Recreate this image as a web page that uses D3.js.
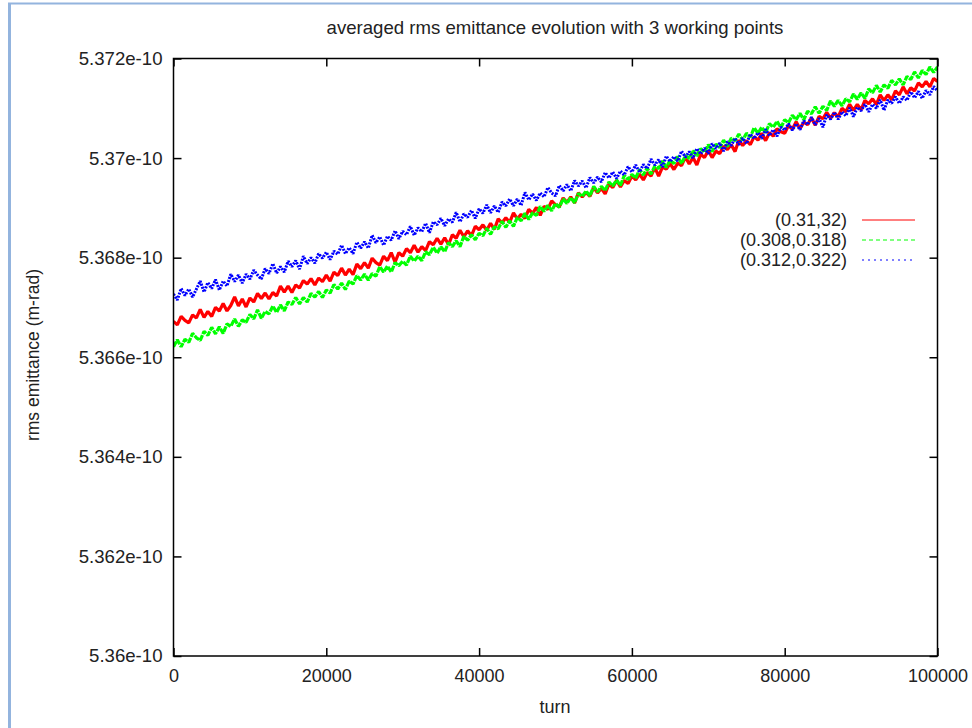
<!DOCTYPE html>
<html><head><meta charset="utf-8">
<script src="https://cdn.jsdelivr.net/npm/d3@7"></script>
<style>
body{margin:0;background:#fff}
svg{display:block}
text{font-family:"Liberation Sans",Arial,Helvetica,sans-serif;fill:#222}
</style>
</head><body><svg id="c" width="972" height="728"></svg>
<script>
// ---- data (emittance values in units of 1e-10 m-rad) ----
const title = "averaged rms emittance evolution with 3 working points";
const xLabel = "turn";
const yLabel = "rms emittance (m-rad)";
const seriesNames = ["(0.31,32)", "(0.308,0.318)", "(0.312,0.322)"];
const seriesColors = ["#ff0000", "#00ff00", "#0000ff"];
const turnStep = 500;
const xTicks = [0, 20000, 40000, 60000, 80000, 100000];
const xTickLabels = ["0", "20000", "40000", "60000", "80000", "100000"];
const yTicks = [5.360, 5.362, 5.364, 5.366, 5.368, 5.370, 5.372];
const yTickLabels = ["5.36e-10", "5.362e-10", "5.364e-10", "5.366e-10", "5.368e-10", "5.37e-10", "5.372e-10"];

const red = [
5.36672,5.36665,5.36682,5.36674,5.36669,5.36685,5.36679,5.36696,5.36680,5.36692,
5.36682,5.36700,5.36693,5.36708,5.36693,5.36704,5.36721,5.36703,5.36717,5.36701,
5.36719,5.36711,5.36728,5.36718,5.36729,5.36717,5.36730,5.36723,5.36743,5.36731,
5.36743,5.36730,5.36745,5.36739,5.36754,5.36747,5.36758,5.36745,5.36759,5.36752,
5.36765,5.36753,5.36771,5.36764,5.36779,5.36765,5.36777,5.36766,5.36787,5.36778,
5.36790,5.36779,5.36799,5.36790,5.36785,5.36803,5.36794,5.36810,5.36791,5.36810,
5.36803,5.36818,5.36810,5.36825,5.36811,5.36822,5.36814,5.36832,5.36826,5.36839,
5.36827,5.36840,5.36826,5.36846,5.36839,5.36855,5.36842,5.36854,5.36844,5.36863,
5.36856,5.36866,5.36855,5.36869,5.36857,5.36878,5.36870,5.36880,5.36871,5.36890,
5.36878,5.36887,5.36879,5.36897,5.36889,5.36901,5.36885,5.36903,5.36897,5.36914,
5.36906,5.36902,5.36920,5.36911,5.36922,5.36910,5.36930,5.36922,5.36931,5.36923,
5.36941,5.36930,5.36939,5.36928,5.36948,5.36941,5.36955,5.36942,5.36955,5.36949,
5.36964,5.36956,5.36968,5.36956,5.36971,5.36964,5.36981,5.36964,5.36982,5.36978,
5.36989,5.36977,5.36990,5.36985,5.37002,5.36988,5.37001,5.36986,5.37008,5.37001,
5.37015,5.37001,5.37014,5.37009,5.37024,5.37017,5.37027,5.37013,5.37036,5.37025,
5.37035,5.37027,5.37043,5.37036,5.37050,5.37035,5.37051,5.37044,5.37059,5.37053,
5.37050,5.37066,5.37058,5.37073,5.37059,5.37072,5.37067,5.37081,5.37066,5.37084,
5.37079,5.37092,5.37080,5.37091,5.37083,5.37100,5.37093,5.37108,5.37096,5.37108,
5.37097,5.37116,5.37109,5.37119,5.37108,5.37127,5.37116,5.37127,5.37117,5.37135,
5.37127,5.37143,5.37129,5.37141,5.37135,5.37151,5.37143,5.37154,5.37143,5.37160,
5.37154];

const green = [
5.36621,5.36635,5.36621,5.36636,5.36630,5.36648,5.36639,5.36634,5.36652,5.36644,
5.36660,5.36647,5.36661,5.36648,5.36667,5.36662,5.36677,5.36662,5.36675,5.36670,
5.36686,5.36677,5.36695,5.36678,5.36692,5.36687,5.36703,5.36690,5.36705,5.36693,
5.36711,5.36706,5.36720,5.36707,5.36720,5.36711,5.36728,5.36721,5.36732,5.36720,
5.36735,5.36729,5.36746,5.36737,5.36749,5.36736,5.36753,5.36747,5.36764,5.36755,
5.36767,5.36755,5.36768,5.36763,5.36782,5.36771,5.36783,5.36771,5.36790,5.36784,
5.36793,5.36785,5.36803,5.36793,5.36803,5.36794,5.36812,5.36806,5.36821,5.36809,
5.36822,5.36812,5.36830,5.36822,5.36834,5.36822,5.36843,5.36835,5.36846,5.36836,
5.36849,5.36844,5.36859,5.36847,5.36862,5.36858,5.36873,5.36861,5.36874,5.36863,
5.36881,5.36874,5.36889,5.36877,5.36890,5.36885,5.36903,5.36893,5.36905,5.36894,
5.36909,5.36901,5.36918,5.36909,5.36921,5.36910,5.36929,5.36923,5.36934,5.36924,
5.36943,5.36932,5.36943,5.36935,5.36952,5.36944,5.36956,5.36945,5.36965,5.36957,
5.36967,5.36960,5.36977,5.36966,5.36980,5.36968,5.36984,5.36979,5.36994,5.36981,
5.36996,5.36989,5.37003,5.36989,5.37005,5.36999,5.37015,5.37004,5.37019,5.37012,
5.37027,5.37013,5.37028,5.37021,5.37036,5.37023,5.37040,5.37035,5.37048,5.37036,
5.37050,5.37042,5.37061,5.37050,5.37062,5.37051,5.37069,5.37062,5.37074,5.37061,
5.37077,5.37071,5.37086,5.37077,5.37090,5.37077,5.37094,5.37089,5.37103,5.37090,
5.37104,5.37096,5.37115,5.37104,5.37116,5.37105,5.37119,5.37113,5.37129,5.37118,
5.37131,5.37120,5.37139,5.37131,5.37146,5.37133,5.37147,5.37140,5.37156,5.37147,
5.37159,5.37147,5.37164,5.37158,5.37173,5.37161,5.37176,5.37168,5.37183,5.37172,
5.37183];

const blue = [
5.36727,5.36715,5.36738,5.36724,5.36737,5.36721,5.36737,5.36753,5.36731,5.36750,
5.36738,5.36756,5.36735,5.36753,5.36743,5.36767,5.36752,5.36765,5.36749,5.36767,
5.36757,5.36775,5.36765,5.36757,5.36778,5.36768,5.36788,5.36769,5.36782,5.36771,
5.36793,5.36782,5.36794,5.36777,5.36803,5.36788,5.36800,5.36789,5.36808,5.36799,
5.36811,5.36796,5.36813,5.36807,5.36825,5.36808,5.36820,5.36808,5.36831,5.36819,
5.36832,5.36819,5.36845,5.36830,5.36842,5.36825,5.36843,5.36835,5.36854,5.36838,
5.36853,5.36846,5.36863,5.36845,5.36860,5.36852,5.36869,5.36850,5.36872,5.36866,
5.36879,5.36864,5.36878,5.36871,5.36891,5.36872,5.36888,5.36881,5.36895,5.36879,
5.36898,5.36889,5.36906,5.36890,5.36904,5.36891,5.36912,5.36904,5.36918,5.36904,
5.36918,5.36905,5.36931,5.36916,5.36928,5.36915,5.36930,5.36922,5.36941,5.36930,
5.36924,5.36945,5.36934,5.36947,5.36934,5.36955,5.36944,5.36954,5.36940,5.36961,
5.36950,5.36962,5.36952,5.36971,5.36960,5.36972,5.36959,5.36974,5.36966,5.36983,
5.36972,5.36986,5.36972,5.36987,5.36979,5.36998,5.36986,5.36997,5.36982,5.37004,
5.36993,5.37003,5.36994,5.37014,5.37002,5.37013,5.37000,5.37019,5.37008,5.37020,
5.37009,5.37029,5.37019,5.37030,5.37014,5.37033,5.37025,5.37040,5.37027,5.37040,
5.37029,5.37048,5.37039,5.37051,5.37039,5.37058,5.37045,5.37057,5.37044,5.37062,
5.37056,5.37069,5.37056,5.37069,5.37057,5.37075,5.37067,5.37082,5.37067,5.37080,
5.37062,5.37087,5.37078,5.37092,5.37078,5.37093,5.37085,5.37101,5.37083,5.37102,
5.37095,5.37108,5.37093,5.37108,5.37100,5.37117,5.37096,5.37117,5.37110,5.37123,
5.37110,5.37123,5.37116,5.37133,5.37121,5.37134,5.37120,5.37136,5.37127,5.37144,
5.37135];

// ---- chart ----
const W = 972, H = 728;
const M = {left: 173.5, right: 937.5, top: 58.5, bottom: 656};
const svg = d3.select("#c");

// page frame (light blue)
svg.append("line").attr("x1", 9.5).attr("y1", 3.5).attr("x2", 9.5).attr("y2", H)
  .attr("stroke", "#93b4de").attr("stroke-width", 3);
svg.append("line").attr("x1", 8).attr("y1", 3.5).attr("x2", W).attr("y2", 3.5)
  .attr("stroke", "#93b4de").attr("stroke-width", 2);

const x = d3.scaleLinear().domain([0, 100000]).range([M.left, M.right]);
const y = d3.scaleLinear().domain([5.360, 5.372]).range([M.bottom, M.top]);

const series = [red, green, blue].map((vals, i) => ({
  name: seriesNames[i], color: seriesColors[i],
  points: vals.map((v, k) => [k * turnStep, v])
}));
const dashes = [null, "6,1", "2,1.2"];
const widths = [3.2, 3.2, 3];

svg.append("defs").append("clipPath").attr("id", "clip")
  .append("rect").attr("x", M.left).attr("y", M.top)
  .attr("width", M.right - M.left).attr("height", M.bottom - M.top);

const line = d3.line().x(d => x(d[0])).y(d => y(d[1]));
const g = svg.append("g").attr("clip-path", "url(#clip)");
series.forEach((s, i) => {
  g.append("path").attr("d", line(s.points)).attr("fill", "none")
    .attr("stroke", s.color).attr("stroke-width", widths[i])
    .attr("stroke-linejoin", "bevel")
    .attr("stroke-dasharray", dashes[i]);
});

// axes (inward ticks, mirrored)
const fs = 18;
const ax = svg.append("g").attr("transform", `translate(0,${M.bottom})`)
  .call(d3.axisBottom(x).tickValues(xTicks).tickFormat((d, i) => xTickLabels[i])
    .tickSizeInner(-8).tickSizeOuter(0).tickPadding(13));
const axT = svg.append("g").attr("transform", `translate(0,${M.top})`)
  .call(d3.axisTop(x).tickValues(xTicks).tickFormat("").tickSizeInner(-8).tickSizeOuter(0));
const ay = svg.append("g").attr("transform", `translate(${M.left},0)`)
  .call(d3.axisLeft(y).tickValues(yTicks).tickFormat((d, i) => yTickLabels[i])
    .tickSizeInner(-8).tickSizeOuter(0).tickPadding(11));
const ayR = svg.append("g").attr("transform", `translate(${M.right},0)`)
  .call(d3.axisRight(y).tickValues(yTicks).tickFormat("").tickSizeInner(-8).tickSizeOuter(0));
[ax, axT, ay, ayR].forEach(a => {
  a.select(".domain").remove();
  a.selectAll(".tick line").attr("stroke", "#000").attr("stroke-width", 1.5);
  a.selectAll("text").attr("font-size", fs).attr("font-family", null).attr("fill", "#222");
});
ay.selectAll("text").attr("font-size", 18.6);

svg.append("rect").attr("x", M.left).attr("y", M.top)
  .attr("width", M.right - M.left).attr("height", M.bottom - M.top)
  .attr("fill", "none").attr("stroke", "#000").attr("stroke-width", 1.5);

// titles
svg.append("text").attr("x", 555).attr("y", 34).attr("text-anchor", "middle")
  .attr("font-size", 18.6).text(title);
svg.append("text").attr("x", 555).attr("y", 713).attr("text-anchor", "middle")
  .attr("font-size", fs).text(xLabel);
svg.append("text").attr("transform", "translate(33,355) rotate(-90)")
  .attr("text-anchor", "middle").attr("dy", "0.35em").attr("font-size", 17.5).text(yLabel);

// legend
const legY = [220, 240, 260];
series.forEach((s, i) => {
  svg.append("text").attr("x", 847).attr("y", legY[i]).attr("dy", "0.35em")
    .attr("text-anchor", "end").attr("font-size", fs).text(s.name);
  svg.append("line").attr("x1", 862).attr("x2", 915).attr("y1", legY[i]).attr("y2", legY[i])
    .attr("stroke", s.color).attr("stroke-width", 1)
    .attr("stroke-dasharray", i === 0 ? null : (i === 1 ? "4,3" : "2,4"));
});
</script>
</body></html>
